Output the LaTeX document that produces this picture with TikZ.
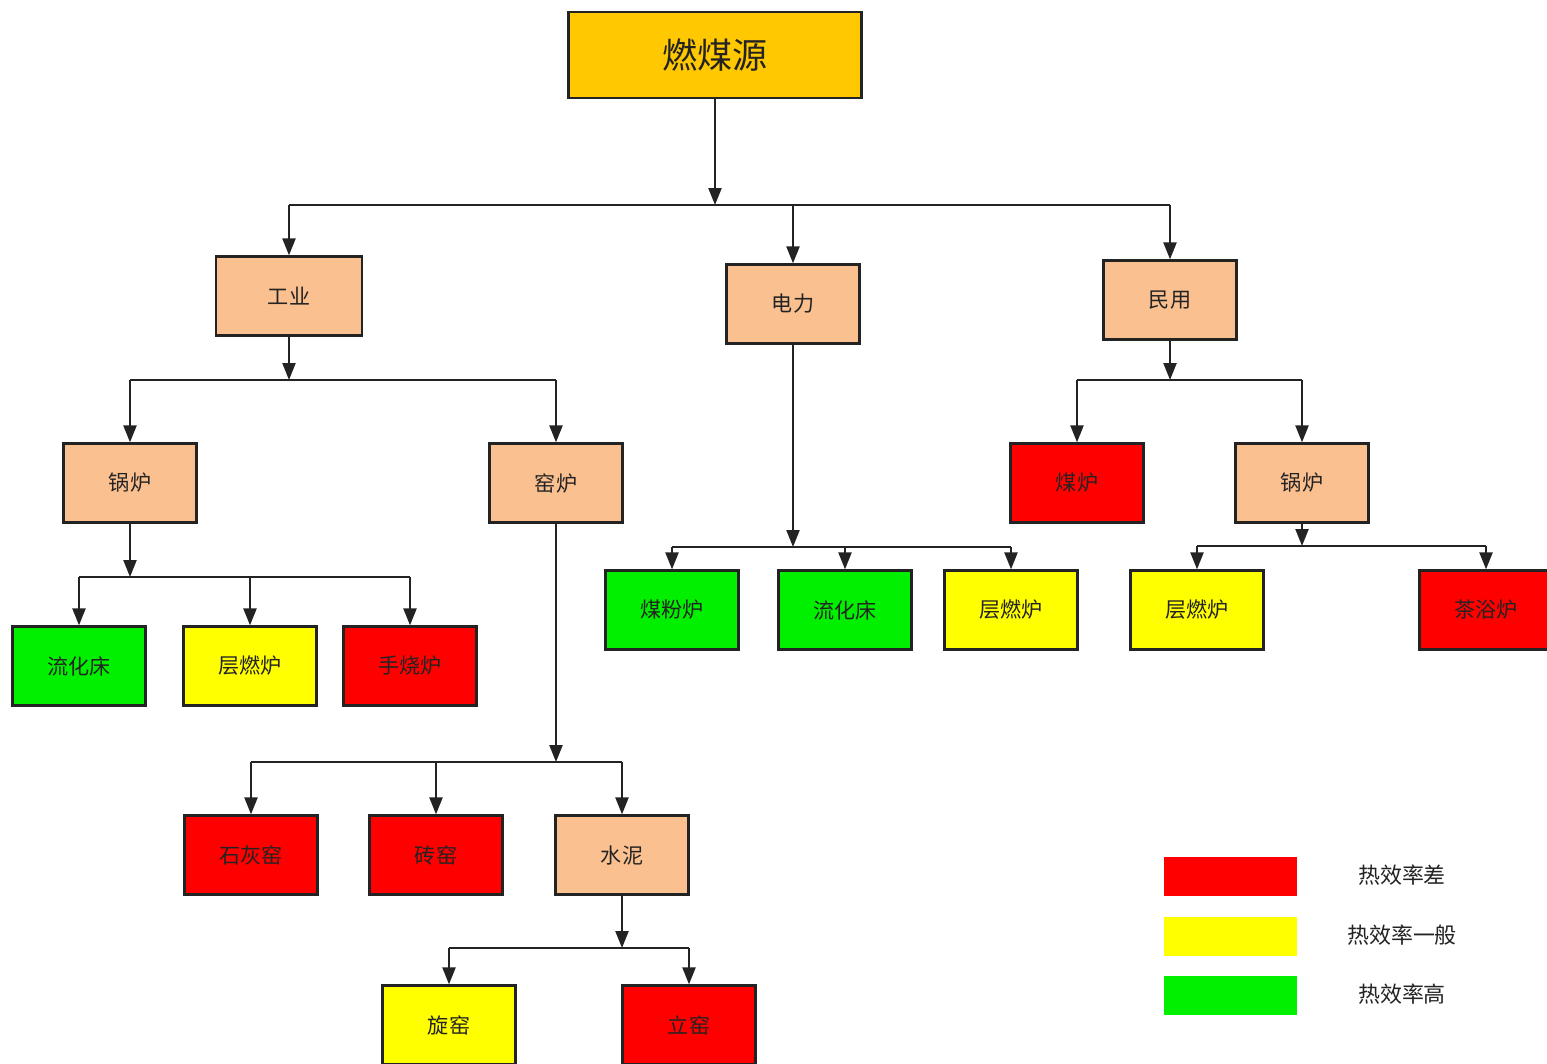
\documentclass[tikz,border=0pt]{standalone}
\usepackage{fontspec}
\newfontfamily\cjk{Noto Sans CJK SC}
\usetikzlibrary{arrows.meta}
\definecolor{peach}{RGB}{250,192,143}
\definecolor{gold}{RGB}{255,200,0}
\definecolor{hot}{RGB}{255,0,0}
\definecolor{mid}{RGB}{255,255,0}
\definecolor{cool}{RGB}{0,240,0}
\definecolor{ink}{RGB}{35,35,35}
\tikzset{
  box/.style={draw=ink, line width=1.3pt, minimum width=2.66cm, minimum height=1.58cm,
    inner sep=0pt, text=ink, font=\cjk\fontsize{12}{14}\selectfont},
  link/.style={draw=ink, line width=1.3pt},
  arr/.style={link, -{Triangle[length=0.34cm, width=0.26cm]}},
  key/.style={minimum width=2.66cm, minimum height=0.78cm, inner sep=0pt},
  keytext/.style={text=ink, font=\cjk\fontsize{12.5}{15}\selectfont},
}
\begin{document}
\begin{tikzpicture}[x=0.02cm, y=-0.02cm]
  \useasboundingbox (0,0) rectangle (1547,1063);
  \begin{scope}
  \clip (0,0) rectangle (1547,1063);
  % top
  \node[box, fill=gold, minimum width=5.86cm, minimum height=1.72cm,
    font=\cjk\fontsize{20}{24}\selectfont] (src) at (715,55) {燃煤源};
  % second level
  \node[box, fill=peach, minimum width=2.92cm] (ind) at (289,296) {工业};
  \node[box, fill=peach] (pow) at (793,304) {电力};
  \node[box, fill=peach] (civ) at (1170,300) {民用};
  % industry
  \node[box, fill=peach] (boilA) at (130,483) {锅炉};
  \node[box, fill=peach] (kiln) at (556,483) {窑炉};
  \node[box, fill=cool] (fbcA) at (79,666) {流化床};
  \node[box, fill=mid] (grateA) at (250,666) {层燃炉};
  \node[box, fill=hot] (hand) at (410,666) {手烧炉};
  \node[box, fill=hot] (lime) at (251,855) {石灰窑};
  \node[box, fill=hot] (brick) at (436,855) {砖窑};
  \node[box, fill=peach] (cem) at (622,855) {水泥};
  \node[box, fill=mid] (rot) at (449,1025) {旋窑};
  \node[box, fill=hot] (shaft) at (689,1025) {立窑};
  % power
  \node[box, fill=cool] (pc) at (672,610) {煤粉炉};
  \node[box, fill=cool] (fbcB) at (845,610) {流化床};
  \node[box, fill=mid] (grateB) at (1011,610) {层燃炉};
  % civil
  \node[box, fill=hot] (stove) at (1077,483) {煤炉};
  \node[box, fill=peach] (boilB) at (1302,483) {锅炉};
  \node[box, fill=mid] (grateC) at (1197,610) {层燃炉};
  \node[box, fill=hot] (tea) at (1486,610) {茶浴炉};

  % buses
  \coordinate (b1) at (715,205);
  \coordinate (b1l) at (ind |- b1);
  \coordinate (b1m) at (pow |- b1);
  \coordinate (b1r) at (civ |- b1);
  \draw[arr] (src) -- (b1);
  \draw[link] (b1l) -- (b1r);
  \draw[arr] (b1l) -- (ind);
  \draw[arr] (b1m) -- (pow);
  \draw[arr] (b1r) -- (civ);

  \coordinate (b2) at (289,380);
  \coordinate (b2l) at (boilA |- b2);
  \coordinate (b2r) at (kiln |- b2);
  \draw[arr] (ind) -- (b2);
  \draw[link] (b2l) -- (b2r);
  \draw[arr] (b2l) -- (boilA);
  \draw[arr] (b2r) -- (kiln);

  \coordinate (b3) at (130,577);
  \coordinate (b3l) at (fbcA |- b3);
  \coordinate (b3m) at (grateA |- b3);
  \coordinate (b3r) at (hand |- b3);
  \draw[arr] (boilA) -- (b3);
  \draw[link] (b3l) -- (b3r);
  \draw[arr] (b3l) -- (fbcA);
  \draw[arr] (b3m) -- (grateA);
  \draw[arr] (b3r) -- (hand);

  \coordinate (b4) at (556,762);
  \coordinate (b4l) at (lime |- b4);
  \coordinate (b4m) at (brick |- b4);
  \coordinate (b4r) at (cem |- b4);
  \draw[arr] (kiln) -- (b4);
  \draw[link] (b4l) -- (b4r);
  \draw[arr] (b4l) -- (lime);
  \draw[arr] (b4m) -- (brick);
  \draw[arr] (b4r) -- (cem);

  \coordinate (b5) at (622,948);
  \coordinate (b5l) at (rot |- b5);
  \coordinate (b5r) at (shaft |- b5);
  \draw[arr] (cem) -- (b5);
  \draw[link] (b5l) -- (b5r);
  \draw[arr] (b5l) -- (rot);
  \draw[arr] (b5r) -- (shaft);

  \coordinate (b6) at (793,547);
  \coordinate (b6l) at (pc |- b6);
  \coordinate (b6m) at (fbcB |- b6);
  \coordinate (b6r) at (grateB |- b6);
  \draw[arr] (pow) -- (b6);
  \draw[link] (b6l) -- (b6r);
  \draw[arr] (b6l) -- (pc);
  \draw[arr] (b6m) -- (fbcB);
  \draw[arr] (b6r) -- (grateB);

  \coordinate (b7) at (1170,380);
  \coordinate (b7l) at (stove |- b7);
  \coordinate (b7r) at (boilB |- b7);
  \draw[arr] (civ) -- (b7);
  \draw[link] (b7l) -- (b7r);
  \draw[arr] (b7l) -- (stove);
  \draw[arr] (b7r) -- (boilB);

  \coordinate (b8) at (1302,546);
  \coordinate (b8l) at (grateC |- b8);
  \coordinate (b8r) at (tea |- b8);
  \draw[arr] (boilB) -- (b8);
  \draw[link] (b8l) -- (b8r);
  \draw[arr] (b8l) -- (grateC);
  \draw[arr] (b8r) -- (tea);
  \end{scope}

  % legend
  \node[key, fill=hot] (kbad) at (1230,876) {};
  \node[key, fill=mid] (kmid) at (1230,936) {};
  \node[key, fill=cool] (kgood) at (1230,995) {};
  \node[keytext] (tbad) at (1402,875) {热效率差};
  \node[keytext] (tmid) at (1402,935) {热效率一般};
  \node[keytext] (tgood) at (1402,994) {热效率高};
\end{tikzpicture}
\end{document}
